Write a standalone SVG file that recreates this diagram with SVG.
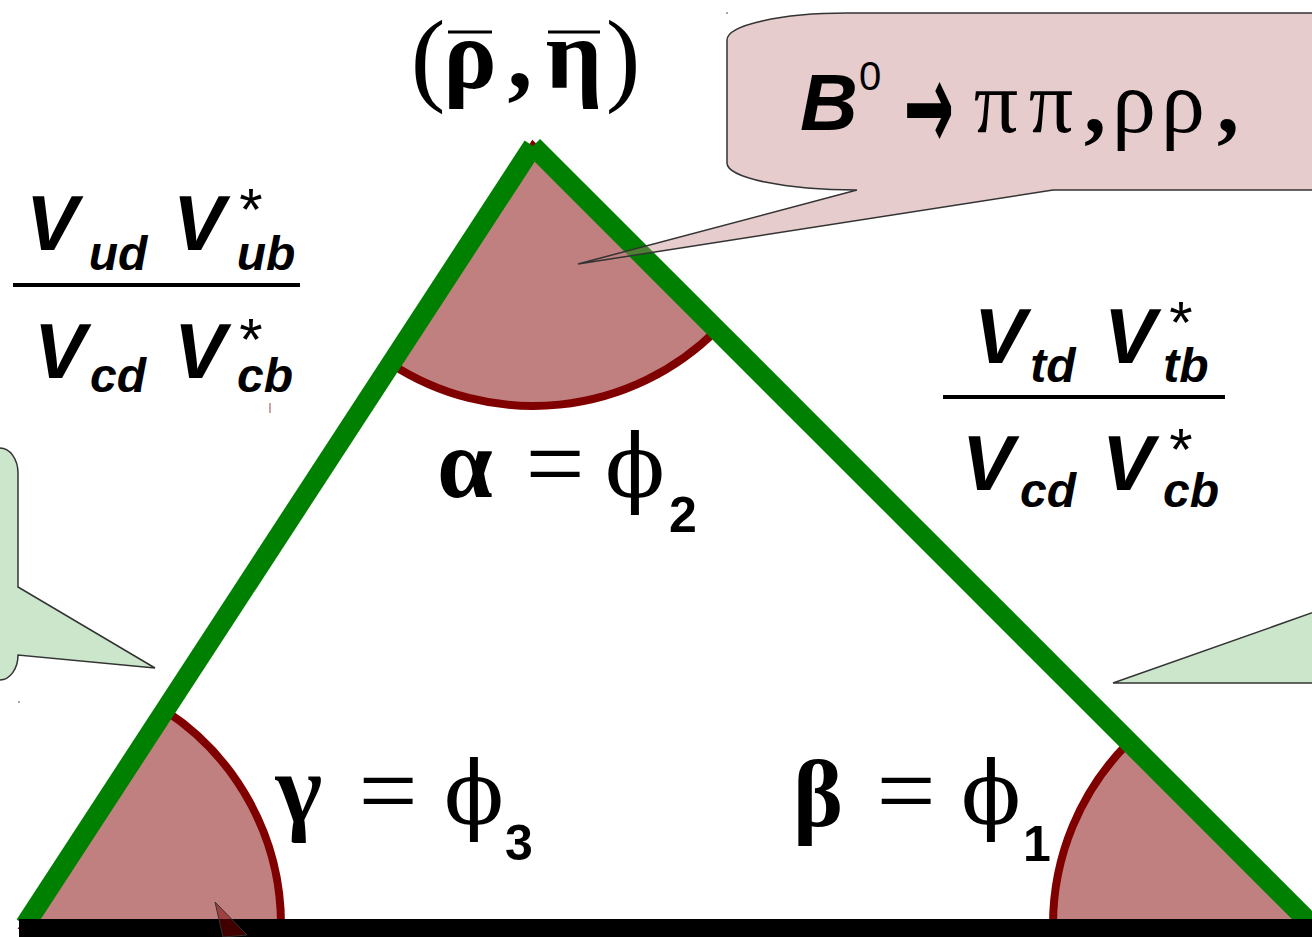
<svg xmlns="http://www.w3.org/2000/svg" width="1312" height="937" viewBox="0 0 1312 937">
<style>
.wedge{fill:#C08080;stroke:#800000;stroke-width:8}
.side{stroke:#008000;stroke-width:20;stroke-linecap:butt;fill:none}
.pinkc{fill:#C08080;fill-opacity:0.4;stroke:#333;stroke-width:1.5}
.greenc{fill:#80C080;fill-opacity:0.4;stroke:#333;stroke-width:1.5}
.bi{font-family:"Liberation Sans",Arial,sans-serif;font-weight:bold;font-style:italic;fill:#000}
.sans{font-family:"Liberation Sans",Arial,sans-serif;fill:#000}
.sansb{font-family:"Liberation Sans",Arial,sans-serif;font-weight:bold;fill:#000}
.arrow{font-family:"DejaVu Sans",sans-serif;font-weight:bold;fill:#000}
.gr{font-family:"Liberation Serif","Times New Roman",serif;fill:#000}
.grb{font-family:"Liberation Serif","Times New Roman",serif;font-weight:bold;fill:#000}
.phi{font-family:"DejaVu Serif",serif;fill:#000}
.m{text-anchor:middle}
</style>
<rect width="1312" height="937" fill="#fff"/>
<g id="wedges">
<path id="alpha-wedge" class="wedge" d="M533 146 L716.8 329.8 A260 260 0 0 1 390.3 363.4 Z"/>
<path id="gamma-wedge" class="wedge" d="M25 925 L281 925 A256 256 0 0 0 165.3 710.7 Z"/>
<path id="beta-wedge" class="wedge" d="M1311 925 L1053 925 A258 258 0 0 1 1128.6 742.6 Z"/>
</g>
<g id="connectors">
<line class="side" x1="533" y1="146" x2="25" y2="925"/>
<line class="side" x1="533" y1="146" x2="1312" y2="925"/>
<rect x="19" y="919" width="1293" height="18" fill="#000"/>
</g>
<g id="callout-top">
<path class="pinkc" d="M727 40 A120 27 0 0 1 847 13 L1320 13 L1320 190 L1053 190 L578 264 L857 190 A130 27 0 0 1 727 163 Z"/>
<text class="bi" x="800" y="130" font-size="80">B</text>
<text class="sans" x="859" y="90" font-size="40">0</text>
<text class="arrow m" transform="translate(929,110) scale(1,2.1)" x="0" y="19" font-size="60">→</text>
<text class="gr m" x="996" y="132" font-size="88">π</text>
<text class="gr m" x="1051" y="132" font-size="88">π</text>
<text class="grb m" x="1095" y="132" font-size="88">,</text>
<text class="gr m" x="1134" y="132" font-size="88">ρ</text>
<text class="gr m" x="1183" y="132" font-size="88">ρ</text>
<text class="grb m" x="1228" y="132" font-size="88">,</text>
</g>
<g id="callout-left">
<path class="greenc" d="M-10 448 L0 448 A18 25 0 0 1 18 473 L18 587 L155 668 L18 655 A18 25 0 0 1 0 680 L-10 680 Z"/>
</g>
<g id="callout-right">
<path class="greenc" d="M1320 610 L1113 683 L1320 683 Z"/>
</g>
<g id="callout-bottom">
<polygon points="215,902 223,937 247,935" fill="#800000" fill-opacity="0.5" stroke="#333" stroke-width="1"/>
</g>
<g id="apex-label">
<text class="gr m" x="428" y="92" font-size="104">(</text>
<text class="grb m" x="470" y="88" font-size="100">ρ</text>
<line x1="448" y1="32" x2="492" y2="32" stroke="#000" stroke-width="3"/>
<text class="grb m" x="520" y="88" font-size="100">,</text>
<text class="grb m" x="574" y="88" font-size="100">η</text>
<line x1="548" y1="32" x2="600" y2="32" stroke="#000" stroke-width="3"/>
<text class="gr m" x="623" y="92" font-size="104">)</text>
</g>
<g id="left-fraction">
<text class="bi m" x="52" y="250" font-size="78">V</text>
<text class="bi m" x="118" y="270" font-size="48">ud</text>
<text class="bi m" x="199" y="250" font-size="78">V</text>
<text class="sans m" x="251" y="230" font-size="60">*</text>
<text class="bi m" x="266" y="270" font-size="48">ub</text>
<rect x="13" y="283" width="287" height="4" fill="#000"/>
<text class="bi m" x="60" y="378" font-size="78">V</text>
<text class="bi m" x="118" y="392" font-size="48">cd</text>
<text class="bi m" x="200" y="378" font-size="78">V</text>
<text class="sans m" x="251" y="360" font-size="60">*</text>
<text class="bi m" x="265" y="392" font-size="48">cb</text>
<line x1="270" y1="403" x2="270" y2="413" stroke="#C08080" stroke-width="1.5"/>
</g>
<g id="right-fraction">
<text class="bi m" x="1000" y="363" font-size="78">V</text>
<text class="bi m" x="1053" y="382" font-size="48">td</text>
<text class="bi m" x="1130" y="363" font-size="78">V</text>
<text class="sans m" x="1181" y="343" font-size="60">*</text>
<text class="bi m" x="1186" y="382" font-size="48">tb</text>
<rect x="943" y="395" width="282" height="4" fill="#000"/>
<text class="bi m" x="988" y="490" font-size="78">V</text>
<text class="bi m" x="1048" y="507" font-size="48">cd</text>
<text class="bi m" x="1128" y="490" font-size="78">V</text>
<text class="sans m" x="1181" y="470" font-size="60">*</text>
<text class="bi m" x="1191" y="507" font-size="48">cb</text>
</g>
<g id="alpha-label">
<text class="grb m" x="465" y="497" font-size="100">α</text>
<text class="gr m" x="555" y="499" font-size="105">=</text>
<text class="phi m" x="635" y="497" font-size="88">ϕ</text>
<text class="sansb m" x="683" y="532" font-size="50">2</text>
</g>
<g id="gamma-label">
<text class="grb m" x="299" y="822" font-size="100">γ</text>
<text class="gr m" x="388" y="826" font-size="105">=</text>
<text class="phi m" x="474" y="824" font-size="88">ϕ</text>
<text class="sansb m" x="519" y="860" font-size="50">3</text>
</g>
<g id="beta-label">
<text class="grb m" x="818" y="826" font-size="95">β</text>
<text class="gr m" x="906" y="826" font-size="105">=</text>
<text class="phi m" x="991" y="824" font-size="88">ϕ</text>
<text class="sansb m" x="1037" y="861" font-size="50">1</text>
</g>
<circle cx="727" cy="13" r="1" fill="#888"/>
<circle cx="19" cy="702" r="1" fill="#888"/>
</svg>
